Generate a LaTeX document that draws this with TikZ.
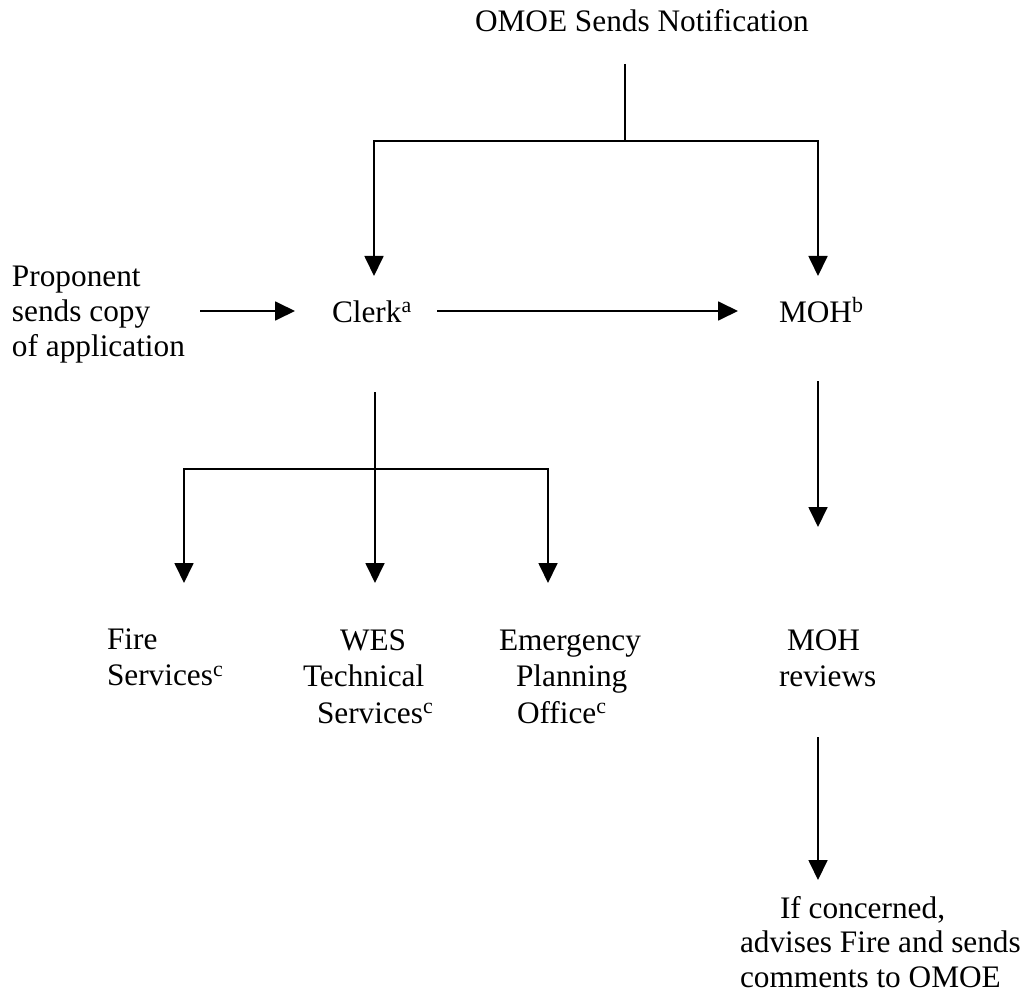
\documentclass[tikz,border=0pt]{standalone}
\usepackage{fontspec}
\setmainfont{Liberation Serif}
\usetikzlibrary{arrows.meta}
\tikzset{
  lbl/.style={anchor=base west, inner sep=0pt, outer sep=0pt, font=\fontsize{31.3}{34.7}\selectfont},
  lblwide/.style={lbl, font=\fontsize{31.3}{36.5}\selectfont},
  conn/.style={line width=1.8pt},
  arr/.style={conn, -{Triangle[length=20pt,width=19pt]}},
}
\begin{document}
\begin{tikzpicture}[x=1pt,y=-1pt]
\useasboundingbox (0,0) rectangle (1030,1000);
% texts
\node[lbl] (omoe) at (475,32) {OMOE Sends Notification};
\node[lbl] (prop) at (12,287) {\begin{tabular}[t]{@{}l@{}}Proponent\\sends copy\\of application\end{tabular}};
\node[lbl] (clerk) at (332,322) {Clerk\textsuperscript{a}};
\node[lbl] (moh) at (779,322) {MOH\textsuperscript{b}};
\node[lblwide] (fire) at (107,649) {\begin{tabular}[t]{@{}l@{}}Fire\\Services\textsuperscript{c}\end{tabular}};
\node[lblwide] (wes) at (303,650) {\begin{tabular}[t]{@{}l@{}}\hspace*{37pt}WES\\Technical\\\hspace*{14pt}Services\textsuperscript{c}\end{tabular}};
\node[lblwide] (epo) at (499,650) {\begin{tabular}[t]{@{}l@{}}Emergency\\\hspace*{17pt}Planning\\\hspace*{18pt}Office\textsuperscript{c}\end{tabular}};
\node[lblwide] (mohrev) at (779,650) {\begin{tabular}[t]{@{}l@{}}\hspace*{8pt}MOH\\reviews\end{tabular}};
\node[lbl] (concern) at (740,918) {\begin{tabular}[t]{@{}l@{}}\hspace*{40pt}If concerned,\\advises Fire and sends\\comments to OMOE\end{tabular}};
% connector points
\coordinate (omoeOut) at (625,64);
\coordinate (topJ) at (625,141);
\coordinate (clerkIn) at (374,276);
\coordinate (mohIn) at (818,276);
\coordinate (propOut) at (200,311);
\coordinate (clerkArr) at (295,311);
\coordinate (clerkOut) at (437,311);
\coordinate (mohArr) at (738,311);
\coordinate (clerkDown) at (375,392);
\coordinate (botJ) at (375,469);
\coordinate (wesIn) at (375,583);
\coordinate (fireIn) at (184,583);
\coordinate (epoIn) at (548,583);
\coordinate (mohDown) at (818,381);
\coordinate (mohrevIn) at (818,527);
\coordinate (mohrevDown) at (818,737);
\coordinate (concernIn) at (818,880);
% connectors
\draw[conn] (omoeOut) -- (topJ);
\draw[arr] (topJ) -| (clerkIn);
\draw[arr] (topJ) -| (mohIn);
\draw[arr] (propOut) -- (clerkArr);
\draw[arr] (clerkOut) -- (mohArr);
\draw[arr] (clerkDown) -- (wesIn);
\draw[arr] (botJ) -| (fireIn);
\draw[arr] (botJ) -| (epoIn);
\draw[arr] (mohDown) -- (mohrevIn);
\draw[arr] (mohrevDown) -- (concernIn);
\end{tikzpicture}
\end{document}
